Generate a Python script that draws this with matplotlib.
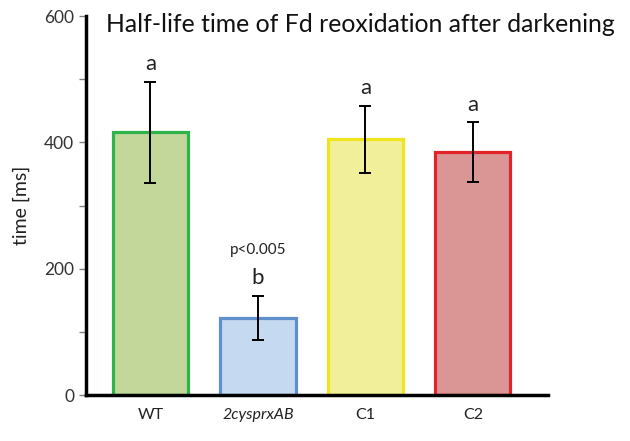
import numpy as np
import matplotlib.pyplot as plt

plt.rcParams['font.family'] = ['Lato', 'DejaVu Sans']

strains = ['WT', '2cysprxAB', 'C1', 'C2']
halflife = [416, 122, 405, 385]
errors = [80, 35, 53, 47]
letters = ['a', 'b', 'a', 'a']
face_colors = ['#c4d79b', '#c5d9f1', '#f1ef9a', '#da9694']
edge_colors = ['#2fb34b', '#6090cc', '#f0e41e', '#e2232a']

fig = plt.figure(figsize=(6.3, 4.41), dpi=100)
ax = fig.add_axes([0.1365, 0.1043, 0.7335, 0.8594])

x = np.arange(len(strains))
ax.bar(x, halflife, width=0.7, color=face_colors, edgecolor=edge_colors,
       linewidth=2.3, zorder=2)
ax.errorbar(x, halflife, yerr=errors, fmt='none', ecolor='black',
            elinewidth=1.4, capsize=4, capthick=1.4, zorder=3)

for i in range(len(strains)):
    top = halflife[i] + errors[i]
    ax.text(x[i], top + 12, letters[i], ha='center', va='bottom',
            fontsize=16, color='#222222')
ax.text(x[1], halflife[1] + errors[1] + 62, 'p<0.005', ha='center',
        va='bottom', fontsize=11, color='#222222')

ax.set_xlim(-0.6, 3.7)
ax.set_ylim(0, 600)
ax.set_yticks([0, 200, 400, 600])
ax.set_yticks([100, 300, 500], minor=True)
ax.tick_params(axis='y', which='both', direction='out', length=5,
               width=1, color='#808080', labelsize=12.5, labelcolor='#333333')
ax.set_xticks(x)
ax.set_xticklabels(strains, fontsize=11.5, color='#222222')
ax.get_xticklabels()[1].set_style('italic')
ax.tick_params(axis='x', length=0, pad=9)

for s in ['top', 'right']:
    ax.spines[s].set_visible(False)
ax.spines['left'].set_linewidth(2.5)
ax.spines['bottom'].set_linewidth(2.5)

ax.set_ylabel('time [ms]', fontsize=14, color='#222222', labelpad=10)
fig.text(0.168, 0.944, 'Half-life time of Fd reoxidation after darkening',
         fontsize=17.8, color='#111111', va='center', ha='left')

fig.savefig('out.png', dpi=100)
